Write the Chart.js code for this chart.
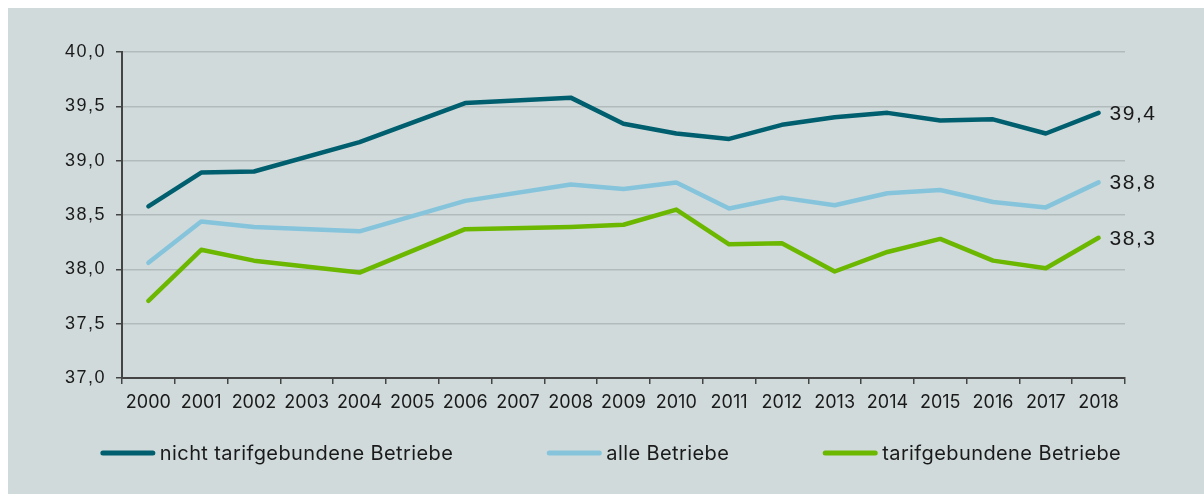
<!DOCTYPE html>
<html>
<head>
<meta charset="utf-8">
<script src="https://cdn.jsdelivr.net/npm/chart.js@4.4.1/dist/chart.umd.min.js"></script>
<style>
    html, body { margin: 0; padding: 0; background: #ffffff; }
    #panel {
        position: absolute;
        left: 8px;
        top: 8px;
        width: 1196px;
        height: 486px;
        background: #d0dadb;
    }
    #panel canvas { display: block; }
</style>
</head>
<body>
<div id="panel"><canvas id="arbeitszeitChart" width="1196" height="486"></canvas></div>
<script>
// Jahre und Werte (Wochenarbeitszeit in Stunden); 2003, 2005, 2007 ohne Angabe
const years = ['2000', '2001', '2002', '2003', '2004', '2005', '2006', '2007', '2008', '2009',
    '2010', '2011', '2012', '2013', '2014', '2015', '2016', '2017', '2018'];
const nichtTarif = [38.58, 38.89, 38.90, null, 39.17, null, 39.53, null, 39.58, 39.34,
    39.25, 39.20, 39.33, 39.40, 39.44, 39.37, 39.38, 39.25, 39.44];
const alleBetriebe = [38.06, 38.44, 38.39, null, 38.35, null, 38.63, null, 38.78, 38.74,
    38.80, 38.56, 38.66, 38.59, 38.70, 38.73, 38.62, 38.57, 38.80];
const tarifBetriebe = [37.71, 38.18, 38.08, null, 37.97, null, 38.37, null, 38.39, 38.41,
    38.55, 38.23, 38.24, 37.98, 38.16, 38.28, 38.08, 38.01, 38.29];
const seriesNames = ['nicht tarifgebundene Betriebe', 'alle Betriebe', 'tarifgebundene Betriebe'];
const seriesColors = ['#005f6e', '#86c4dc', '#6cb700'];
const yTicks = [37.0, 37.5, 38.0, 38.5, 39.0, 39.5, 40.0];

function komma(v) {
    return Number(v).toFixed(1).replace('.', ',');
}

// y-Beschriftung etwas gesperrt, wie im Original
const spacedYLabels = {
    id: 'spacedYLabels',
    beforeDraw(chart) {
        const ys = chart.scales.y;
        if (ys._spaced) return;
        const orig = ys.drawLabels.bind(ys);
        ys.drawLabels = function (area) {
            const c = this.ctx;
            c.save();
            c.letterSpacing = '1.5px';
            orig(area);
            c.restore();
        };
        ys._spaced = true;
    }
};

// Wert am Linienende
const endLabels = {
    id: 'endLabels',
    afterDatasetsDraw(chart) {
        const ctx = chart.ctx;
        ctx.save();
        ctx.font = '21px "Liberation Sans", Arial, sans-serif';
        ctx.letterSpacing = '1.5px';
        ctx.fillStyle = '#1a1a1a';
        ctx.textAlign = 'left';
        ctx.textBaseline = 'middle';
        chart.data.datasets.forEach(function (ds, i) {
            const meta = chart.getDatasetMeta(i);
            const last = meta.data[meta.data.length - 1];
            ctx.fillText(komma(ds.data[ds.data.length - 1]), last.x + 11, last.y + 1);
        });
        ctx.restore();
    }
};

// Legende unten, Linienmuster + Text, zentriert
const bottomLegend = {
    id: 'bottomLegend',
    afterDraw(chart) {
        const ctx = chart.ctx;
        const lineLen = 54, textGap = 5, itemGap = 94;
        ctx.save();
        ctx.font = '20px Inter, "Noto Sans", sans-serif';
        ctx.letterSpacing = '0.4px';
        const widths = chart.data.datasets.map(ds => ctx.measureText(ds.label).width);
        let total = 0;
        widths.forEach(w => { total += lineLen + textGap + w; });
        total += itemGap * (widths.length - 1);
        let x = chart.width / 2 + 5 - total / 2;
        const y = chart.chartArea.bottom + 75;
        chart.data.datasets.forEach(function (ds, i) {
            ctx.strokeStyle = ds.borderColor;
            ctx.lineWidth = 5;
            ctx.lineCap = 'round';
            ctx.beginPath();
            ctx.moveTo(x + 2, y);
            ctx.lineTo(x + lineLen - 2, y);
            ctx.stroke();
            ctx.fillStyle = '#1a1a1a';
            ctx.textBaseline = 'middle';
            ctx.fillText(ds.label, x + lineLen + textGap, y + 1);
            x += lineLen + textGap + widths[i] + itemGap;
        });
        ctx.restore();
    }
};

const ctxArbeitszeit = document.getElementById('arbeitszeitChart').getContext('2d');
const arbeitszeitChart = new Chart(ctxArbeitszeit, {
    type: 'line',
    data: {
        labels: years,
        datasets: [nichtTarif, alleBetriebe, tarifBetriebe].map(function (werte, i) {
            return {
                label: seriesNames[i],
                data: werte,
                borderColor: seriesColors[i],
                backgroundColor: seriesColors[i],
                borderWidth: 4.5,
                borderJoinStyle: 'round',
                borderCapStyle: 'round',
                pointRadius: 0,
                spanGaps: true,
                tension: 0
            };
        })
    },
    options: {
        responsive: false,
        animation: false,
        layout: {
            padding: { left: 0, right: 79, top: 44, bottom: 76 }
        },
        plugins: {
            legend: { display: false },
            tooltip: { enabled: false }
        },
        scales: {
            x: {
                offset: true,
                grid: {
                    offset: true,
                    drawOnChartArea: false,
                    tickLength: 6,
                    color: '#444',
                    lineWidth: 1.5
                },
                border: { color: '#444', width: 2 },
                ticks: {
                    color: '#1a1a1a',
                    font: { family: 'Inter, "Noto Sans", sans-serif', size: 18 },
                    padding: 8,
                    maxRotation: 0,
                    autoSkip: false
                },
                afterFit: function (scale) { scale.height = 40; }
            },
            y: {
                min: 37,
                max: 40,
                afterBuildTicks: function (scale) {
                    scale.ticks = yTicks.map(v => ({ value: v }));
                },
                grid: {
                    color: '#b2bbbb',
                    tickColor: '#444',
                    lineWidth: 1.5,
                    tickLength: 6
                },
                border: { color: '#444', width: 2 },
                ticks: {
                    color: '#1a1a1a',
                    font: { family: '"Liberation Sans", Arial, sans-serif', size: 18 },
                    padding: 10,
                    callback: function (value) { return komma(value); }
                },
                afterFit: function (scale) { scale.width = 114; }
            }
        }
    },
    plugins: [spacedYLabels, endLabels, bottomLegend]
});
</script>
</body>
</html>
